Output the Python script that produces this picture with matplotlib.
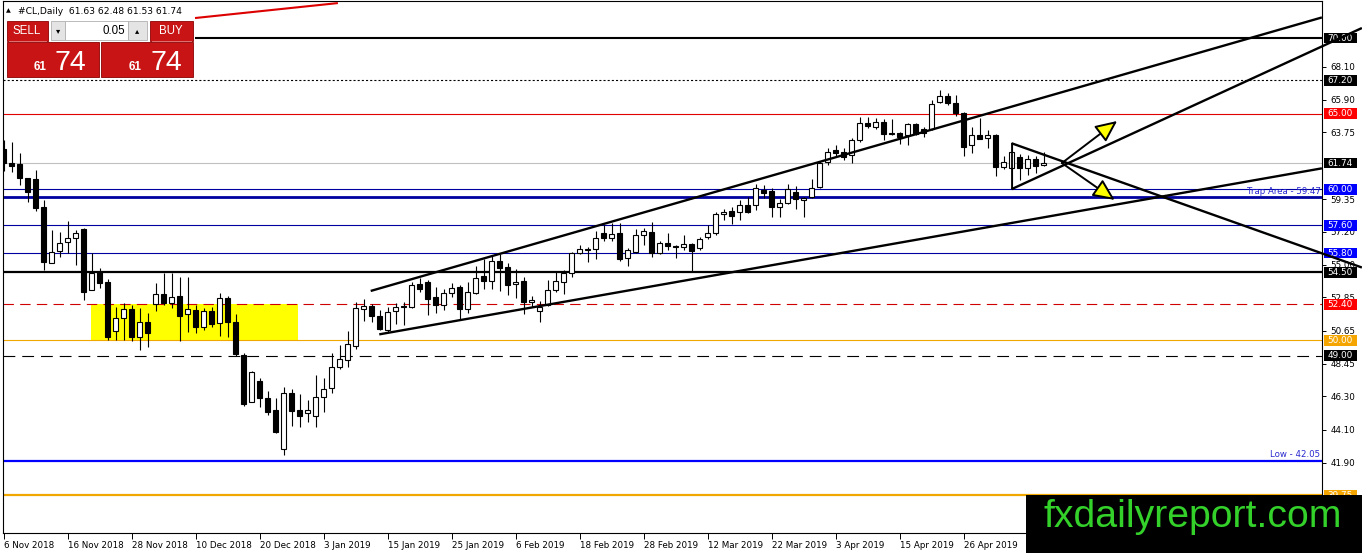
import matplotlib
matplotlib.use("Agg")
import matplotlib.pyplot as plt
from matplotlib.patches import Rectangle

plt.rcParams["lines.scale_dashes"] = False
plt.rcParams["font.family"] = ["DejaVu Sans"]

# ---------------- data ----------------
opens = [62.66, 61.75, 61.67, 60.72, 60.66, 58.80, 55.14, 55.93, 56.49, 56.75,
         57.37, 53.33, 54.54, 53.84, 50.62, 51.46, 52.06, 50.24, 51.22, 52.41,
         53.07, 52.49, 52.93, 51.73, 52.01, 50.87, 51.94, 51.13, 52.78, 51.20,
         49.03, 45.91, 47.29, 46.17, 45.40, 42.79, 46.54, 45.40, 45.18, 45.02,
         46.24, 46.83, 48.22, 48.70, 49.65, 52.10, 52.26, 51.63, 50.69, 51.94,
         52.27, 52.19, 53.71, 53.88, 52.89, 52.34, 53.11, 53.51, 52.06, 53.16,
         54.26, 53.95, 55.27, 54.83, 53.73, 53.95, 52.52, 51.96, 52.34, 53.33,
         53.88, 54.48, 55.76, 55.98, 56.03, 57.08, 56.75, 57.08, 55.43, 55.87,
         56.97, 57.19, 55.76, 56.46, 56.26, 56.16, 56.38, 56.09, 56.82, 57.08,
         58.34, 58.56, 58.47, 58.95, 58.96, 59.95, 59.90, 58.80, 59.07, 59.80,
         59.29, 59.46, 60.13, 61.82, 62.59, 62.44, 62.26, 63.25, 64.40, 64.13,
         64.42, 63.74, 63.74, 63.58, 64.29, 63.96, 63.96, 65.79, 66.16, 65.72,
         65.06, 62.92, 63.58, 63.37, 63.58, 61.49, 61.38, 62.11, 61.38, 61.98,
         61.63]
highs = [63.25, 63.12, 62.37, 60.75, 61.27, 59.29, 57.30, 57.19, 57.87, 57.30,
         57.41, 55.76, 54.77, 54.04, 52.19, 52.49, 52.34, 52.12, 51.80, 53.78,
         54.44, 54.44, 54.22, 54.22, 52.34, 52.16, 52.23, 53.16, 52.94, 51.73,
         49.15, 48.00, 47.49, 46.67, 46.17, 46.90, 46.78, 46.45, 46.06, 47.71,
         47.49, 49.15, 49.70, 50.62, 52.56, 52.72, 52.41, 52.01, 52.23, 52.45,
         52.56, 53.88, 54.11, 53.99, 53.55, 53.38, 53.82, 53.66, 53.88, 54.92,
         55.36, 55.58, 55.71, 55.10, 54.70, 54.17, 52.94, 52.60, 54.00, 54.54,
         54.66, 55.87, 56.31, 56.20, 57.25, 57.63, 57.78, 57.78, 56.10, 57.35,
         57.41, 57.85, 56.59, 57.12, 56.31, 56.97, 56.46, 56.86, 57.63, 58.51,
         58.67, 58.84, 59.29, 59.50, 60.34, 60.28, 60.10, 59.33, 60.34, 60.21,
         59.50, 60.65, 61.88, 62.74, 62.92, 62.71, 63.37, 64.80, 64.76, 64.69,
         64.62, 64.62, 63.80, 64.36, 64.40, 64.13, 65.90, 66.56, 66.38, 66.23,
         65.13, 64.13, 64.69, 63.92, 63.65, 62.20, 62.99, 62.33, 62.28, 62.20,
         62.48]
lows = [61.20, 61.16, 60.28, 59.17, 58.58, 54.66, 55.10, 55.54, 55.76, 54.99,
        52.67, 53.33, 53.45, 50.03, 50.03, 50.03, 49.98, 49.36, 49.58, 51.96,
        52.34, 52.12, 49.98, 50.58, 50.51, 50.69, 50.91, 50.29, 50.24, 48.97,
        45.66, 45.90, 45.62, 45.07, 43.86, 42.42, 44.34, 44.25, 44.62, 44.29,
        45.28, 46.54, 48.09, 48.26, 49.40, 51.30, 51.24, 50.69, 50.58, 51.08,
        51.00, 52.12, 53.22, 51.68, 51.79, 52.01, 52.89, 51.35, 51.79, 53.07,
        53.38, 53.38, 53.29, 53.00, 52.78, 51.75, 52.19, 51.24, 52.30, 53.22,
        53.07, 54.17, 55.71, 55.21, 55.36, 56.59, 56.59, 55.27, 54.92, 55.76,
        56.31, 55.50, 55.70, 55.98, 55.43, 55.98, 54.54, 55.98, 56.69, 56.95,
        57.96, 57.70, 57.96, 58.41, 58.62, 59.40, 58.18, 58.14, 59.02, 58.69,
        58.18, 59.40, 60.06, 61.60, 62.15, 61.93, 61.71, 63.14, 64.03, 63.98,
        63.25, 63.60, 62.99, 62.92, 63.58, 63.43, 63.90, 65.68, 65.57, 64.84,
        62.20, 62.41, 63.30, 62.70, 60.90, 61.32, 60.00, 60.61, 60.94, 61.05,
        61.53]
closes = [61.73, 61.53, 60.72, 59.80, 58.78, 55.20, 55.87, 56.42, 56.75, 57.08,
          53.22, 54.48, 53.78, 50.24, 51.50, 52.06, 50.24, 51.22, 50.51, 53.07,
          52.49, 52.85, 51.63, 52.06, 50.87, 51.94, 51.08, 52.78, 51.20, 49.08,
          45.79, 47.93, 46.17, 45.28, 43.92, 46.54, 45.35, 45.02, 45.40, 46.28,
          46.79, 48.22, 48.75, 49.74, 52.13, 52.26, 51.63, 50.73, 51.90, 52.23,
          52.20, 53.66, 53.40, 52.72, 52.34, 53.11, 53.44, 52.06, 53.18, 54.15,
          53.95, 55.27, 54.77, 53.66, 53.88, 52.52, 52.67, 52.23, 53.33, 53.95,
          54.44, 55.80, 56.02, 56.02, 56.79, 56.79, 57.04, 55.36, 55.98, 56.97,
          57.24, 55.76, 56.46, 56.24, 56.16, 56.38, 55.93, 56.69, 57.08, 58.36,
          58.47, 58.23, 58.95, 58.51, 60.06, 59.77, 58.80, 59.07, 59.99, 59.35,
          59.44, 60.06, 61.75, 62.48, 62.41, 62.15, 63.25, 64.40, 64.18, 64.42,
          63.63, 63.65, 63.47, 64.29, 63.65, 63.70, 65.63, 66.16, 65.72, 65.06,
          62.81, 63.58, 63.32, 63.58, 61.49, 61.78, 62.48, 61.38, 62.00, 61.53,
          61.74]

date_labels = ["6 Nov 2018", "16 Nov 2018", "28 Nov 2018", "10 Dec 2018",
               "20 Dec 2018", "3 Jan 2019", "15 Jan 2019", "25 Jan 2019",
               "6 Feb 2019", "18 Feb 2019", "28 Feb 2019", "12 Mar 2019",
               "22 Mar 2019", "3 Apr 2019", "15 Apr 2019", "26 Apr 2019"]
bars_per_label = 8

price_ticks = [39.75, 41.90, 44.10, 46.30, 48.45, 50.65, 52.85, 55.00,
               57.20, 59.35, 63.75, 65.90, 68.10]

levels = [70.00, 67.20, 65.00, 61.74, 60.00, 59.47, 57.60, 55.80, 54.50,
          52.40, 50.00, 49.00, 42.05, 39.75]
level_tags = ["70.00", "67.20", "65.00", "61.74", "60.00", "", "57.60",
              "55.80", "54.50", "52.40", "50.00", "49.00", "", "39.75"]

trap_level = 59.47
low_level = 42.05

# zone and trend lines in (bar index, price)
zone_bars = [10.9, 36.85]
zone_prices = [50.00, 52.40]
channel_upper = [(45.9, 53.27), (164.8, 71.36)]
channel_lower = [(46.97, 50.40), (164.8, 61.38)]
tri_top = (126.0, 63.04)
tri_bottom = (126.0, 60.00)
down_line_end = (169.8, 54.82)
up_line_end = (169.8, 70.66)
arrow_start = (132.3, 61.73)
arrow_up_tip = (139.2, 64.51)
arrow_down_tip = (138.9, 59.29)
red_line = [(23.94, 71.32), (41.8, 72.31)]

symbol = "#CL,Daily"
lot = "0.05"

# ---------------- styles ----------------
NAVY = "#0000a0"
level_styles = [
    dict(color="black", lw=1.5, ls="-"),
    dict(color="black", lw=0.8, ls=(0, (1.5, 1.5))),
    dict(color="#e00000", lw=0.8, ls="-"),
    dict(color="#c0c0c0", lw=0.8, ls="-"),
    dict(color=NAVY, lw=0.8, ls="-"),
    dict(color=NAVY, lw=2.0, ls="-"),
    dict(color=NAVY, lw=0.8, ls="-"),
    dict(color=NAVY, lw=0.8, ls="-"),
    dict(color="black", lw=1.6, ls="-"),
    dict(color="#d00000", lw=0.8, ls=(0, (7.5, 4.5))),
    dict(color="#f0a800", lw=0.8, ls="-"),
    dict(color="black", lw=0.8, ls=(0, (8.5, 5.0))),
    dict(color="#0000ff", lw=1.6, ls="-"),
    dict(color="#f0a800", lw=1.6, ls="-"),
]
tag_colors = ["black", "black", "#ff0000", "black", "#0000ff", None,
              "#0000ff", "#0000ff", "black", "#ff0000", "#f5a500", "black",
              None, "#f5a500"]

W_PX, H_PX = 1362, 553
fig = plt.figure(figsize=(W_PX / 100, H_PX / 100), dpi=100)
fig.patch.set_facecolor("white")

left_px, right_px, top_px, bottom_px = 2.5, 1322.0, 1.0, 532.5
ax = fig.add_axes([left_px / W_PX, (H_PX - bottom_px) / H_PX,
                   (right_px - left_px) / W_PX, (bottom_px - top_px) / H_PX])
bar_px = 8.0
first_bar_px = 3.5
ax.set_xlim((left_px - first_bar_px) / bar_px, (right_px - first_bar_px) / bar_px)
ax.set_ylim(37.295, 72.447)
ax.set_facecolor("white")
for s in ax.spines.values():
    s.set_color("black")
    s.set_linewidth(0.8)

# zone
ax.add_patch(Rectangle((zone_bars[0], zone_prices[0]), zone_bars[1] - zone_bars[0],
                       zone_prices[1] - zone_prices[0], fc="#ffff00", ec="none", zorder=1))

# horizontal levels
for lv, st in zip(levels, level_styles):
    ax.axhline(lv, color=st["color"], lw=st["lw"], linestyle=st["ls"], zorder=1.5)

# candles
bw = 0.56
for i, (o, h, l, c) in enumerate(zip(opens, highs, lows, closes)):
    ax.vlines(i, l, h, color="black", lw=0.8, zorder=3)
    bottom = min(o, c)
    height = max(abs(c - o), 0.04)
    fc = "white" if c >= o else "black"
    ax.add_patch(Rectangle((i - bw / 2, bottom), bw, height, fc=fc, ec="black",
                           lw=0.8, zorder=3.5))

# red line top-left
ax.plot([p[0] for p in red_line], [p[1] for p in red_line], color="#dd0000",
        lw=1.5, zorder=4, solid_capstyle="butt")

# texts on levels
blend = matplotlib.transforms.blended_transform_factory(ax.transAxes, ax.transData)
ax.text(1.0 - 1.5 / (right_px - left_px), trap_level + 0.08, f"Trap Area - {trap_level:.2f}",
        transform=blend, ha="right", va="bottom", fontsize=6.2, color="#2828d0", zorder=5)
ax.text(1.0 - 1.5 / (right_px - left_px), low_level + 0.08, f"Low - {low_level:.2f}",
        transform=blend, ha="right", va="bottom", fontsize=6.2, color="#2828d0", zorder=5)

# axes ticks
ax.yaxis.tick_right()
ax.set_yticks(price_ticks)
ax.set_yticklabels([f"{t:.2f}" for t in price_ticks])
ax.tick_params(axis="y", direction="out", length=3, width=0.7, labelsize=6.3,
               pad=3, colors="black")
ax.set_xticks([k * bars_per_label for k in range(len(date_labels))])
ax.set_xticklabels(date_labels, ha="left")
ax.tick_params(axis="x", direction="out", length=4, width=0.7, labelsize=6.3, pad=2)

# ---------------- overlay in pixel space ----------------
ov = fig.add_axes([0, 0, 1, 1], zorder=5)
ov.set_xlim(0, W_PX)
ov.set_ylim(H_PX, 0)
ov.axis("off")
ov.patch.set_alpha(0)


def to_px(b, p):
    x, y = ax.transData.transform((b, p))
    return x, H_PX - y


# level tags on the right
for lv, tag, col in zip(levels, level_tags, tag_colors):
    if not tag:
        continue
    _, yy = to_px(0, lv)
    ov.add_patch(Rectangle((1323.5, yy - 5.2), 33.5, 10.6, fc=col, ec="none", zorder=2))
    ov.text(1340.2, yy + 0.3, tag, ha="center", va="center", fontsize=6.4,
            color="white", zorder=3)


# trend lines
def seg(p1, p2, lw=1.7):
    a = to_px(*p1)
    b = to_px(*p2)
    ov.plot([a[0], b[0]], [a[1], b[1]], color="black", lw=lw, zorder=4,
            solid_capstyle="butt")


seg(*channel_upper)
seg(*channel_lower)
seg(tri_top, tri_bottom, lw=1.3)
seg(tri_top, down_line_end)
seg(tri_bottom, up_line_end)

for tip in (arrow_up_tip, arrow_down_tip):
    ov.annotate("", xy=to_px(*tip), xytext=to_px(*arrow_start),
                arrowprops=dict(arrowstyle="-|>,head_length=1.2,head_width=0.55",
                                fc="#ffff00", ec="black", lw=1.4,
                                mutation_scale=11, shrinkA=0, shrinkB=0),
                zorder=5)

# trade widget
ov.text(6, 11, "\u25b2", fontsize=4.5, va="center", ha="left", color="black", zorder=6)
ov.text(18, 11, f"{symbol}  {opens[-1]:.2f} {highs[-1]:.2f} {lows[-1]:.2f} {closes[-1]:.2f}",
        fontsize=6.6, va="center", ha="left", color="black", zorder=6)
ov.add_patch(Rectangle((4, 19), 191, 60, fc="white", ec="none", zorder=6))
RED = "#c81414"
ov.add_patch(Rectangle((6.5, 20.5), 41, 20, fc=RED, ec="#8a0000", lw=0.6, zorder=7))
ov.add_patch(Rectangle((149.5, 20.5), 43, 20, fc=RED, ec="#8a0000", lw=0.6, zorder=7))
ov.add_patch(Rectangle((51, 20.5), 14, 19, fc="#e4e4e4", ec="#b0b0b0", lw=0.6, zorder=7))
ov.add_patch(Rectangle((65, 20.5), 63, 19, fc="white", ec="#b0b0b0", lw=0.6, zorder=7))
ov.add_patch(Rectangle((128, 20.5), 19, 19, fc="#e4e4e4", ec="#b0b0b0", lw=0.6, zorder=7))
ov.text(27, 30.5, "SELL", fontsize=8.3, color="white", ha="center", va="center",
        family="Liberation Sans", zorder=8)
ov.text(171, 30.5, "BUY", fontsize=8.3, color="white", ha="center", va="center",
        family="Liberation Sans", zorder=8)
ov.text(58, 30.5, "\u25be", fontsize=6, color="black", ha="center", va="center", zorder=8)
ov.text(137.5, 30.5, "\u25b4", fontsize=6, color="black", ha="center", va="center", zorder=8)
ov.text(125, 30.5, lot, fontsize=8.3, color="black", ha="right", va="center",
        family="Liberation Sans", zorder=8)
ov.add_patch(Rectangle((6.5, 41.5), 92, 35.5, fc=RED, ec="#8a0000", lw=0.6, zorder=7))
ov.add_patch(Rectangle((101, 41.5), 92, 35.5, fc=RED, ec="#8a0000", lw=0.6, zorder=7))
ov.plot([9, 46], [41.2, 41.2], color="#f08080", lw=0.6, zorder=8)
ov.plot([152, 191], [41.2, 41.2], color="#f08080", lw=0.6, zorder=8)
price_str = f"{closes[-1]:.2f}"
big_int, big_dec = price_str.split(".")
for x0 in (34, 129):
    ov.text(x0, 70, big_int, fontsize=8.5, fontweight="bold", color="white",
            ha="left", va="baseline", family="Liberation Sans", zorder=8)
    ov.text(x0 + 21, 70.5, big_dec, fontsize=20.5, color="white", ha="left",
            va="baseline", family="Liberation Sans", zorder=8)

# banner
ov.add_patch(Rectangle((1026, 495), W_PX - 1026, H_PX - 495, fc="black", ec="none", zorder=9))
ov.text(1193, 527, "fxdailyreport.com", fontsize=28.3, color="#33d12a", ha="center",
        va="baseline", family="Liberation Sans", zorder=10)

fig.savefig("out.png", dpi=100)
